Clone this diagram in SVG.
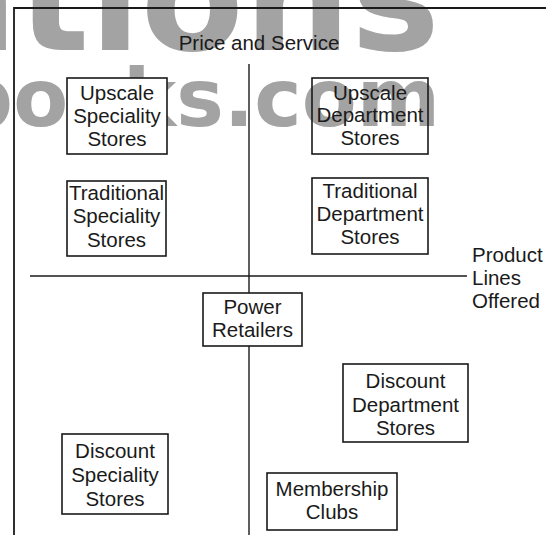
<svg xmlns="http://www.w3.org/2000/svg" width="546" height="535" viewBox="0 0 546 535">
  <style>
    .wm { font-family: "DejaVu Sans", Verdana, sans-serif; font-weight: bold; fill: #a3a3a3; }
    .frame { stroke: #1a1a1a; stroke-width: 1.8; fill: none; }
    .axis { stroke: #1a1a1a; stroke-width: 1.4; fill: none; }
    .box { stroke: #1a1a1a; stroke-width: 1.6; fill: none; }
    .solid { fill: #ffffff; }
    .lbl { font-family: "Liberation Sans", Arial, sans-serif; font-size: 20.5px; fill: #1a1a1a; text-anchor: middle; }
    .lbl-start { text-anchor: start; }
  </style>

  <rect width="546" height="535" fill="#ffffff"/>

  <!-- background watermark -->
  <g id="watermark">
    <text class="wm" x="440" y="50" font-size="150" text-anchor="end">ations</text>
    <text class="wm" x="440" y="126" font-size="80" text-anchor="end">books.com</text>
  </g>

  <!-- outer frame and axes -->
  <g id="connectors">
    <path class="frame" d="M14,535 V8 H546"/>
    <line class="axis" x1="249" y1="64" x2="249" y2="535"/>
    <line class="axis" x1="30" y1="276" x2="467" y2="276"/>
  </g>

  <g id="axis-labels">
    <text class="lbl" x="259" y="50" font-size="21">Price and Service</text>
    <text class="lbl lbl-start" x="472" y="262">Product</text>
    <text class="lbl lbl-start" x="472" y="285">Lines</text>
    <text class="lbl lbl-start" x="472" y="308">Offered</text>
  </g>

  <g id="upscale-speciality">
    <rect class="box solid" x="67" y="78" width="100" height="76"/>
    <text class="lbl" x="117" y="100">Upscale</text>
    <text class="lbl" x="117" y="123">Speciality</text>
    <text class="lbl" x="117" y="146">Stores</text>
  </g>

  <g id="upscale-department">
    <rect class="box" x="312" y="78" width="116" height="76"/>
    <text class="lbl" x="370" y="100">Upscale</text>
    <text class="lbl" x="370" y="122">Department</text>
    <text class="lbl" x="370" y="145">Stores</text>
  </g>

  <g id="traditional-speciality">
    <rect class="box solid" x="67" y="181" width="99" height="75"/>
    <text class="lbl" x="116.5" y="200">Traditional</text>
    <text class="lbl" x="116.5" y="223">Speciality</text>
    <text class="lbl" x="116.5" y="247">Stores</text>
  </g>

  <g id="traditional-department">
    <rect class="box solid" x="312" y="178" width="116" height="76"/>
    <text class="lbl" x="370" y="198">Traditional</text>
    <text class="lbl" x="370" y="221">Department</text>
    <text class="lbl" x="370" y="244">Stores</text>
  </g>

  <g id="power-retailers">
    <rect class="box solid" x="203" y="293" width="99" height="53"/>
    <text class="lbl" x="252.5" y="314">Power</text>
    <text class="lbl" x="252.5" y="337">Retailers</text>
  </g>

  <g id="discount-department">
    <rect class="box solid" x="343" y="364" width="125" height="78"/>
    <text class="lbl" x="405.5" y="388">Discount</text>
    <text class="lbl" x="405.5" y="412">Department</text>
    <text class="lbl" x="405.5" y="435">Stores</text>
  </g>

  <g id="discount-speciality">
    <rect class="box solid" x="62" y="434" width="106" height="80"/>
    <text class="lbl" x="115" y="458">Discount</text>
    <text class="lbl" x="115" y="482">Speciality</text>
    <text class="lbl" x="115" y="506">Stores</text>
  </g>

  <g id="membership-clubs">
    <rect class="box solid" x="267" y="473" width="130" height="57"/>
    <text class="lbl" x="332" y="496">Membership</text>
    <text class="lbl" x="332" y="519">Clubs</text>
  </g>
</svg>
